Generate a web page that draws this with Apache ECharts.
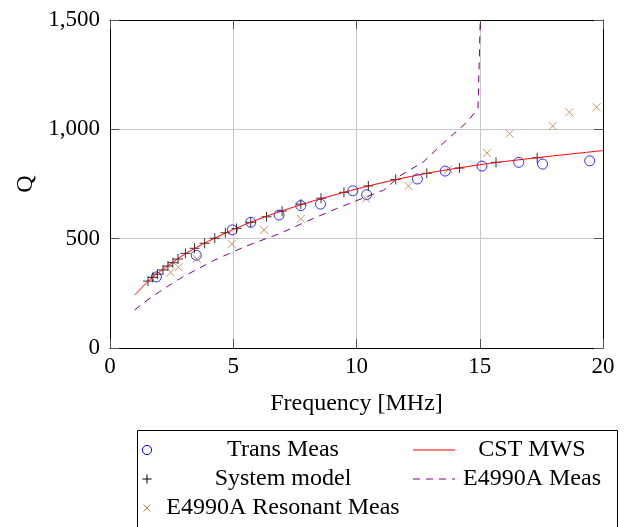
<!DOCTYPE html>
<html>
<head>
<meta charset="utf-8">
<script src="https://cdn.jsdelivr.net/npm/echarts@6/dist/echarts.min.js"></script>
<style>
  html, body { margin: 0; padding: 0; background: #fff; }
  #chart { width: 624px; height: 527px; }
</style>
</head>
<body>
<div id="chart"></div>
<script>
// Q factor versus frequency for the coil: measurements, system model and simulation.
const transFreq = [1.88, 3.50, 4.96, 5.71, 6.86, 7.74, 8.54, 9.85, 10.41, 12.47, 13.60, 15.09, 16.58, 17.55, 19.46];
const transQ    = [325, 424, 540, 575, 608, 651, 658, 719, 701, 773, 809, 832, 849, 841, 856];

const modelFreq = [1.54, 1.74, 1.92, 2.15, 2.35, 2.55, 2.76, 3.06, 3.43, 3.84, 4.25, 4.68, 5.13,
                   5.71, 6.35, 6.98, 7.74, 8.56, 9.49, 10.48, 11.59, 12.85, 14.18, 15.66, 17.33];
const modelQ    = [306, 323, 338, 357, 375, 390, 407, 433, 456, 479, 502, 527, 547,
                   575, 600, 626, 658, 685, 712, 741, 771, 799, 823, 849, 870];

const resFreq = [2.46, 2.78, 3.52, 4.94, 6.25, 7.74, 10.39, 12.11, 13.73, 15.29, 16.21, 17.96, 18.63, 19.74];
const resQ    = [346, 369, 408, 476, 540, 591, 683, 741, 817, 892, 980, 1015, 1078, 1101];

const cstFreq = [1, 1.5, 2, 2.5, 3, 3.5, 4, 4.5, 5, 6, 7, 8, 9, 10, 11, 12, 13, 14, 15, 16, 17, 18, 19, 20];
const cstQ    = [242, 300, 348, 388, 427, 460, 489, 516, 542, 588, 628, 664, 697, 727, 755, 780, 802, 821, 838, 853, 866, 879, 891, 903];

const e4990Freq = [1.0, 1.5, 2.0, 2.5, 3.0, 3.5, 4.2, 5.0, 5.5, 6.9, 8.2, 9.2, 10.1, 11.1, 11.8, 12.7, 13.4, 14.1, 14.5, 14.93, 15.02];
const e4990Q    = [174, 218, 257, 294, 328, 358, 400, 440, 465, 524, 590, 638, 678, 722, 790, 850, 925, 995, 1035, 1096, 1500];

const xTicks = { min: 0, max: 20, interval: 5 };
const yTicks = { min: 0, max: 1500, interval: 500 };

const seriesNames = ['Trans Meas', 'System model', 'E4990A Resonant Meas', 'CST MWS', 'E4990A Meas'];

const pairs = (xs, ys) => xs.map((x, i) => [x, ys[i]]);

const FONT = '"Liberation Serif", "DejaVu Serif", serif';
const BLUE = '#0000ff', BROWN = '#bf8040', RED = '#ff0000', VIOLET = '#800080';
const PLUS = 'path://M0,5H10M5,0V10';
const CROSS = 'path://M0,0L10,10M10,0L0,10';

const chart = echarts.init(document.getElementById('chart'), null, { renderer: 'canvas' });

const baseX = {
  type: 'value', min: xTicks.min, max: xTicks.max, interval: xTicks.interval,
  axisLine: { show: true, onZero: false, lineStyle: { color: '#000', width: 1 } },
  axisTick: { show: true, inside: true, length: 9, lineStyle: { color: '#555', width: 1 } },
  splitLine: { show: false }
};
const baseY = {
  type: 'value', min: yTicks.min, max: yTicks.max, interval: yTicks.interval,
  axisLine: { show: true, onZero: false, lineStyle: { color: '#000', width: 1 } },
  axisTick: { show: true, inside: true, length: 9, lineStyle: { color: '#555', width: 1 } },
  splitLine: { show: false }
};

// Legend box drawn as graphics: two columns with centred labels.
const legendX = 137, legendY = 430;
const rowY = [450, 479, 508];
const col1Mark = 147, col1Text = 283, col2Line = [413, 455], col2Text = 532;
const legendText = (x, y, t) => ({
  type: 'text', x: x, y: y,
  style: { text: t, font: '24px ' + FONT, fill: '#000', textAlign: 'center', textVerticalAlign: 'middle' }
});

const graphics = [
  { type: 'rect', shape: { x: legendX + 0.5, y: legendY + 0.5, width: 480, height: 110 },
    style: { fill: '#fff', stroke: '#000', lineWidth: 1 } },
  { type: 'circle', shape: { cx: col1Mark, cy: rowY[0], r: 4.6 }, style: { fill: 'none', stroke: BLUE, lineWidth: 1 } },
  { type: 'polyline', shape: { points: [[col1Mark - 4.6, rowY[1]], [col1Mark + 4.6, rowY[1]]] }, style: { stroke: '#000', lineWidth: 1 } },
  { type: 'polyline', shape: { points: [[col1Mark, rowY[1] - 4.6], [col1Mark, rowY[1] + 4.6]] }, style: { stroke: '#000', lineWidth: 1 } },
  { type: 'polyline', shape: { points: [[col1Mark - 3.5, rowY[2] - 3.5], [col1Mark + 3.5, rowY[2] + 3.5]] }, style: { stroke: BROWN, lineWidth: 1 } },
  { type: 'polyline', shape: { points: [[col1Mark + 3.5, rowY[2] - 3.5], [col1Mark - 3.5, rowY[2] + 3.5]] }, style: { stroke: BROWN, lineWidth: 1 } },
  { type: 'polyline', shape: { points: [[col2Line[0], rowY[0]], [col2Line[1], rowY[0]]] }, style: { stroke: RED, lineWidth: 1 } },
  { type: 'polyline', shape: { points: [[col2Line[0], rowY[1]], [col2Line[1], rowY[1]]] }, style: { stroke: VIOLET, lineWidth: 1, lineDash: [7, 6] } },
  legendText(col1Text, rowY[0], seriesNames[0]),
  legendText(col1Text, rowY[1], seriesNames[1]),
  legendText(col1Text, rowY[2], seriesNames[2]),
  legendText(col2Text, rowY[0], seriesNames[3]),
  legendText(col2Text, rowY[1], seriesNames[4])
];

chart.setOption({
  animation: false,
  backgroundColor: '#fff',
  textStyle: { fontFamily: FONT, color: '#000' },
  grid: { left: 110, right: 21, top: 20, bottom: 179, containLabel: false, outerBoundsMode: 'none' },
  xAxis: [
    Object.assign({}, baseX, {
      position: 'bottom',
      name: 'Frequency [MHz]', nameLocation: 'middle', nameGap: 44,
      nameTextStyle: { fontFamily: FONT, fontSize: 24, color: '#000' },
      axisLabel: { show: true, margin: 7, fontFamily: FONT, fontSize: 23, color: '#000' },
      splitLine: { show: true, lineStyle: { color: '#c8c8c8', width: 1 } }
    }),
    Object.assign({}, baseX, { position: 'top', axisLabel: { show: false } })
  ],
  yAxis: [
    Object.assign({}, baseY, {
      position: 'left',
      name: 'Q', nameLocation: 'middle', nameGap: 71, nameRotate: 90,
      nameTextStyle: { fontFamily: FONT, fontSize: 24, color: '#000' },
      axisLabel: {
        show: true, margin: 10, fontFamily: FONT, fontSize: 23, color: '#000',
        formatter: v => v.toLocaleString('en-US')
      },
      splitLine: { show: true, lineStyle: { color: '#c8c8c8', width: 1 } }
    }),
    Object.assign({}, baseY, { position: 'right', axisLabel: { show: false } })
  ],
  graphic: graphics,
  series: [
    {
      name: seriesNames[0], type: 'scatter', data: pairs(transFreq, transQ),
      symbol: 'circle', symbolSize: 10,
      itemStyle: { color: 'rgba(0,0,0,0)', borderColor: BLUE, borderWidth: 1 }
    },
    {
      name: seriesNames[1], type: 'scatter', data: pairs(modelFreq, modelQ),
      symbol: PLUS, symbolSize: 10,
      itemStyle: { color: 'rgba(0,0,0,0)', borderColor: '#000', borderWidth: 1 }
    },
    {
      name: seriesNames[2], type: 'scatter', data: pairs(resFreq, resQ),
      symbol: CROSS, symbolSize: 8,
      itemStyle: { color: 'rgba(0,0,0,0)', borderColor: BROWN, borderWidth: 1 }
    },
    {
      name: seriesNames[3], type: 'line', data: pairs(cstFreq, cstQ),
      showSymbol: false, smooth: 0.3, clip: true,
      lineStyle: { color: RED, width: 1 }
    },
    {
      name: seriesNames[4], type: 'line', data: pairs(e4990Freq, e4990Q),
      showSymbol: false, clip: true,
      lineStyle: { color: VIOLET, width: 1, type: [7, 6] }
    }
  ]
});
</script>
</body>
</html>
